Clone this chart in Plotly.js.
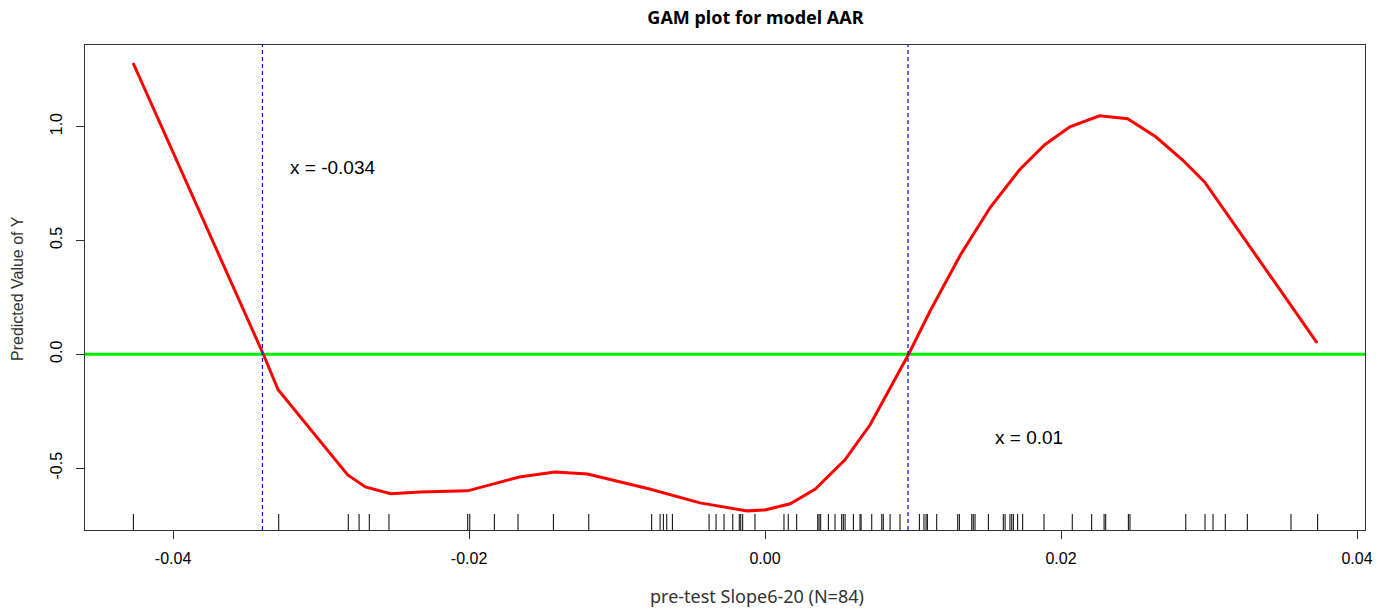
<!DOCTYPE html>
<html>
<head>
<meta charset="utf-8">
<script src="https://cdn.plot.ly/plotly-3.0.1.min.js"></script>
<style>html,body{margin:0;padding:0;background:#fff;}#chart{width:1388px;height:611px;}</style>
</head>
<body>
<div id="chart"></div>
<script>
// GAM fitted curve (x, predicted value)
var curveX = [-0.0427, -0.0339, -0.0329, -0.0282, -0.0270, -0.0253, -0.0233, -0.0201, -0.0166, -0.0142, -0.0120, -0.0078, -0.0044, -0.0012, 0.0000, 0.0017, 0.0034, 0.0054, 0.0071, 0.0086, 0.0097, 0.0112, 0.0132, 0.0152, 0.0172, 0.0189, 0.0206, 0.0226, 0.0245, 0.0264, 0.0282, 0.0297, 0.0373];
var curveY = [1.279, 0.0, -0.156, -0.530, -0.583, -0.613, -0.605, -0.600, -0.539, -0.517, -0.526, -0.592, -0.653, -0.688, -0.684, -0.657, -0.592, -0.464, -0.310, -0.134, 0.0, 0.195, 0.436, 0.643, 0.810, 0.920, 0.999, 1.047, 1.034, 0.955, 0.854, 0.757, 0.050];

// observed x values (rug)
var rugX = [-0.04268, -0.03286, -0.02816, -0.02743, -0.02674, -0.02541, -0.02009, -0.01995, -0.01829, -0.01669,
  -0.01430, -0.01191, -0.00766, -0.00709, -0.00687, -0.00664, -0.00626, -0.00378, -0.00331, -0.00277,
  -0.00218, -0.00174, -0.00164, -0.00151, -0.00068, 0.00128, 0.00157, 0.00214, 0.00356, 0.00365,
  0.00376, 0.00428, 0.00473, 0.00518, 0.00529, 0.00541, 0.00597, 0.00642, 0.00649, 0.00721,
  0.00789, 0.00799, 0.00845, 0.00912, 0.01043, 0.01074, 0.01088, 0.01097, 0.01160, 0.01302,
  0.01313, 0.01397, 0.01407, 0.01419, 0.01509, 0.01610, 0.01622, 0.01655, 0.01667, 0.01678,
  0.01707, 0.01741, 0.01885, 0.02076, 0.02207, 0.02291, 0.02302, 0.02455, 0.02466, 0.02843,
  0.02973, 0.03027, 0.03110, 0.03259, 0.03554, 0.03734];

// zero crossings
var cutX = [-0.03396, 0.00966];
var cutLabels = ["x = -0.034", "x = 0.01"];
var labelX = [-0.0292, 0.01784];
var labelY = [0.822, -0.367];

var xTicks = [-0.04, -0.02, 0.00, 0.02, 0.04];
var xTickText = ["-0.04", "-0.02", "0.00", "0.02", "0.04"];
var yTicks = [-0.5, 0.0, 0.5, 1.0];
var yTickText = ["-0.5", "0.0", "0.5", "1.0"];

var titleText = "GAM plot for model AAR";
var xTitle = "pre-test Slope6-20 (N=84)";
var yTitle = "Predicted Value of Y";

var shapes = [];
// green zero line
shapes.push({type: 'line', xref: 'paper', yref: 'y', x0: 0, x1: 1, y0: 0, y1: 0,
  line: {color: '#00ee00', width: 3}, layer: 'below'});
// blue dashed lines
cutX.forEach(function (v) {
  shapes.push({type: 'line', xref: 'x', yref: 'paper', x0: v, x1: v, y0: 0, y1: 1,
    line: {color: '#0000ff', width: 1.2, dash: '4px,3px'}});
});
// rug
rugX.forEach(function (v) {
  shapes.push({type: 'line', xref: 'x', yref: 'paper', x0: v, x1: v, y0: 0, y1: 0.033,
    line: {color: '#000000', width: 1}});
});

var annotations = cutLabels.map(function (t, i) {
  return {x: labelX[i], y: labelY[i], xref: 'x', yref: 'y', text: t, showarrow: false,
    font: {family: 'Liberation Sans, Arial, sans-serif', size: 19, color: '#000'}};
});
// axis titles
annotations.push({x: 0.525, y: -0.136, xref: 'paper', yref: 'paper', text: xTitle, showarrow: false,
  xanchor: 'center', yanchor: 'middle',
  font: {family: 'Noto Sans, sans-serif', size: 18, color: '#333'}});
annotations.push({x: -0.0523, y: 0.497, xref: 'paper', yref: 'paper', text: yTitle, showarrow: false,
  xanchor: 'center', yanchor: 'middle', textangle: -90,
  font: {family: 'Liberation Sans, Arial, sans-serif', size: 16, color: '#333'}});

var trace = {
  x: curveX, y: curveY, type: 'scatter', mode: 'lines',
  line: {color: '#ff0000', width: 3}, hoverinfo: 'x+y'
};

var layout = {
  width: 1388, height: 611,
  margin: {l: 85, r: 23, t: 45, b: 81},
  paper_bgcolor: '#fff', plot_bgcolor: '#fff',
  showlegend: false,
  title: {text: '<b>' + titleText + '</b>', xref: 'container', x: 0.5443, xanchor: 'center',
    yref: 'container', y: 0.9705, yanchor: 'middle',
    font: {family: 'Noto Sans, sans-serif', size: 18, color: '#000'}},
  xaxis: {
    range: [-0.04595, 0.04054], tickvals: xTicks, ticktext: xTickText,
    showgrid: false, zeroline: false, showline: true, mirror: true, linecolor: '#333', linewidth: 1,
    ticks: 'outside', ticklen: 8, tickcolor: '#333', tickwidth: 1, ticklabelstandoff: 6,
    tickfont: {family: 'Liberation Sans, Arial, sans-serif', size: 16, color: '#000'}
  },
  yaxis: {
    range: [-0.772, 1.358], tickvals: yTicks, ticktext: yTickText, tickangle: -90,
    showgrid: false, zeroline: false, showline: true, mirror: true, linecolor: '#333', linewidth: 1,
    ticks: 'outside', ticklen: 8, tickcolor: '#333', tickwidth: 1, ticklabelstandoff: 8,
    tickfont: {family: 'Liberation Sans, Arial, sans-serif', size: 16, color: '#000'}
  },
  shapes: shapes,
  annotations: annotations
};

Plotly.newPlot('chart', [trace], layout, {displayModeBar: false, staticPlot: true});
</script>
</body>
</html>
